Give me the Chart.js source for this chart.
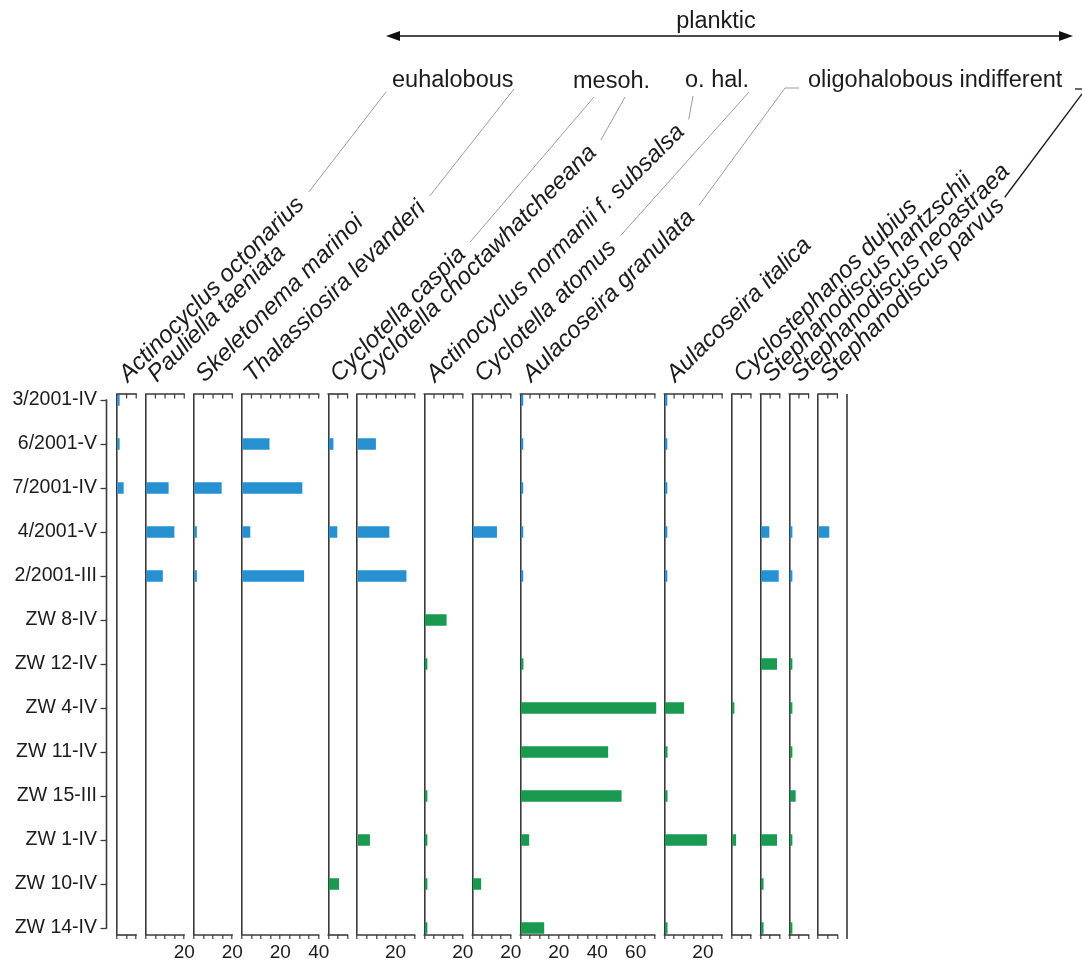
<!DOCTYPE html>
<html>
<head>
<meta charset="utf-8">
<title>Diatom assemblages</title>
<script src="https://cdn.jsdelivr.net/npm/chart.js@4.4.1/dist/chart.umd.min.js"></script>
<style>
  html, body { margin: 0; padding: 0; background: #ffffff; }
  #wrap { width: 1082px; height: 960px; position: relative; }
</style>
</head>
<body>
<div id="wrap"><canvas id="diagram"></canvas></div>
<script>
// ---- data -------------------------------------------------------------
const samples = ['3/2001-IV', '6/2001-V', '7/2001-IV', '4/2001-V', '2/2001-III',
  'ZW 8-IV', 'ZW 12-IV', 'ZW 4-IV', 'ZW 11-IV', 'ZW 15-III', 'ZW 1-IV', 'ZW 10-IV', 'ZW 14-IV'];

const taxa = ['Actinocyclus octonarius', 'Pauliella taeniata', 'Skeletonema marinoi',
  'Thalassiosira levanderi', 'Cyclotella caspia', 'Cyclotella choctawhatcheeana',
  'Actinocyclus normanii f. subsalsa', 'Cyclotella atomus', 'Aulacoseira granulata',
  'Aulacoseira italica', 'Cyclostephanos dubius', 'Stephanodiscus hantzschii',
  'Stephanodiscus neoastraea', 'Stephanodiscus parvus'];

// upper end of each taxon's % axis
const scaleMax = [10, 20, 20, 40, 10, 30, 20, 20, 70, 30, 10, 10, 10, 10];

// relative abundance (%) per sample, in the order of `samples`; null = not recorded
const actinocyclusOctonarius      = [1.2, 1.2, 3.3, null, null, null, null, null, null, null, null, null, null];
const pauliellaTaeniata           = [null, null, 11.7, 14.7, 8.7, null, null, null, null, null, null, null, null];
const skeletonemaMarinoi          = [null, null, 14.3, 1.4, 1.4, null, null, null, null, null, null, null, null];
const thalassiosiraLevanderi      = [null, 14.2, 31.3, 4.2, 32.2, null, null, null, null, null, null, null, null];
const cyclotellaCaspia            = [null, 2.5, null, 4.5, null, null, null, null, null, null, null, 5.4, null];
const cyclotellaChoctawhatcheeana = [null, 9.6, null, 16.6, 25.5, null, null, null, null, null, 6.5, null, null];
const actinocyclusNormanii        = [null, null, null, null, null, 11.4, 1.4, null, null, 1.4, 1.4, 1.4, 1.4];
const cyclotellaAtomus            = [null, null, null, 12.6, null, null, null, null, null, null, null, 4.4, null];
const aulacoseiraGranulata        = [1.3, 1.3, 1.3, 1.3, 1.3, null, 1.4, 70.5, 45.5, 52.5, 4.4, null, 12.2];
const aulacoseiraItalica          = [1.3, 1.3, 1.3, 1.3, 1.3, null, null, 10, 1.4, 1.4, 21.9, null, 1.4];
const cyclostephanosDubius        = [null, null, null, null, null, null, null, 1.2, null, null, 2.1, null, null];
const stephanodiscusHantzschii    = [null, null, null, 4.4, 9.3, null, 8.4, null, null, null, 8.4, 1.4, 1.4];
const stephanodiscusNeoastraea    = [null, null, null, 1.4, 1.4, null, 1.4, 1.4, 1.4, 3.1, 1.4, null, 1.4];
const stephanodiscusParvus        = [null, null, null, 5.6, null, null, null, null, null, null, null, null, null];

const abundance = [actinocyclusOctonarius, pauliellaTaeniata, skeletonemaMarinoi,
  thalassiosiraLevanderi, cyclotellaCaspia, cyclotellaChoctawhatcheeana, actinocyclusNormanii,
  cyclotellaAtomus, aulacoseiraGranulata, aulacoseiraItalica, cyclostephanosDubius,
  stephanodiscusHantzschii, stephanodiscusNeoastraea, stephanodiscusParvus];

const tickStep = 5;
const labelledTicks = [20, 40, 60];

const lifeForm = 'planktic';
const salinityGroups = ['euhalobous', 'mesoh.', 'o. hal.', 'oligohalobous indifferent'];

// ---- styling ----------------------------------------------------------
const FONT = '"Liberation Sans", Arial, Helvetica, sans-serif';
const TEXT = '#1b1b1b';
const LINE = '#3a3a3a';
const LEADER = '#9c9c9c';
const BLUE = '#2690d0';
const GREEN = '#1a9a50';
const PANEL_GAP = 5;          // empty % units after each taxon panel
const ROW_PAD_TOP = 6 / 44;   // space above first sample (in rows)
const ROW_PAD_BOTTOM = 7 / 44;

// scale paddings from label overhang would shrink the plot area; the frame is laid out by hand
const noOverhang = s => { s.paddingTop = 0; s.paddingBottom = 0; s.paddingLeft = 0; s.paddingRight = 0; };

// ---- scales -----------------------------------------------------------
const scales = {
  y: {
    type: 'linear',
    reverse: true,
    offset: false,
    min: -ROW_PAD_TOP,
    max: samples.length - 1 + ROW_PAD_BOTTOM,
    afterBuildTicks: s => { s.ticks = samples.map((_, i) => ({ value: i })); },
    afterFit: s => { s.width = 117; noOverhang(s); },
    grid: { display: false, drawTicks: false },
    border: { display: false },
    ticks: {
      autoSkip: false,
      padding: 20,
      color: TEXT,
      font: { family: FONT, size: 19.5 },
      callback: v => samples[v]
    }
  }
};

taxa.forEach((_, k) => {
  scales['x' + k] = {
    type: 'linear',
    axis: 'x',
    position: 'bottom',
    stack: 'panels',
    stackWeight: scaleMax[k] + PANEL_GAP,
    offset: false,
    min: 0,
    max: scaleMax[k] + PANEL_GAP,
    afterBuildTicks: s => {
      const t = [];
      for (let v = 0; v <= scaleMax[k]; v += tickStep) t.push({ value: v });
      s.ticks = t;
    },
    afterFit: s => { s.height = 25; noOverhang(s); },
    border: { display: false },
    grid: {
      drawOnChartArea: true,
      drawTicks: true,
      tickLength: 4,
      lineWidth: 1.6,
      color: c => (c.tick && c.tick.value === 0 ? LINE : 'rgba(0,0,0,0)'),
      tickColor: LINE,
      tickWidth: 1.2
    },
    ticks: {
      autoSkip: false,
      maxRotation: 0,
      minRotation: 0,
      padding: 2,
      color: TEXT,
      font: { family: FONT, size: 19 },
      callback: v => (labelledTicks.includes(v) ? String(v) : '')
    }
  };
});

// ---- datasets ---------------------------------------------------------
const datasets = taxa.map((name, k) => {
  const pts = [], colors = [];
  abundance[k].forEach((v, i) => {
    if (v === null) return;
    pts.push({ x: v, y: i });
    colors.push(samples[i].startsWith('ZW') ? GREEN : BLUE);
  });
  return {
    label: name,
    data: pts,
    xAxisID: 'x' + k,
    yAxisID: 'y',
    backgroundColor: colors,
    borderWidth: 0,
    barThickness: 11,
    grouped: false
  };
});

// ---- frame, taxon names and ecological annotations -------------------
const frame = {
  id: 'frame',
  afterDraw(chart) {
    const ctx = chart.ctx;
    const area = chart.chartArea;
    const yS = chart.scales.y;
    ctx.save();
    ctx.strokeStyle = LINE;
    ctx.lineCap = 'butt';

    // sample axis with ticks
    const axX = area.left - 10.5;
    const yFirst = yS.getPixelForValue(0);
    const yLast = yS.getPixelForValue(samples.length - 1);
    ctx.lineWidth = 1.6;
    ctx.beginPath();
    ctx.moveTo(axX, yFirst - 0.8);
    ctx.lineTo(axX, yLast + 0.8);
    ctx.stroke();
    ctx.lineWidth = 1.3;
    samples.forEach((_, i) => {
      const y = Math.round(yS.getPixelForValue(i)) + 0.5;
      ctx.beginPath();
      ctx.moveTo(axX - 6, y);
      ctx.lineTo(axX, y);
      ctx.stroke();
    });

    // per-panel top and bottom axis lines, inward ticks on top
    taxa.forEach((_, k) => {
      const s = chart.scales['x' + k];
      const a = s.getPixelForValue(0);
      const b = s.getPixelForValue(scaleMax[k]);
      ctx.lineWidth = 1.6;
      [area.top, area.bottom].forEach(y => {
        ctx.beginPath();
        ctx.moveTo(a - 0.8, y);
        ctx.lineTo(b + 0.6, y);
        ctx.stroke();
      });
      ctx.lineWidth = 1.2;
      for (let v = tickStep; v <= scaleMax[k]; v += tickStep) {
        const x = s.getPixelForValue(v);
        ctx.beginPath();
        ctx.moveTo(x, area.top);
        ctx.lineTo(x, area.top + 4.5);
        ctx.stroke();
      }
    });

    // closing line on the right
    ctx.lineWidth = 1.6;
    ctx.beginPath();
    ctx.moveTo(area.right, area.top);
    ctx.lineTo(area.right, area.bottom + 4);
    ctx.stroke();

    // taxon names, rotated 45 degrees
    const c45 = Math.SQRT1_2;
    const nameSize = 24;
    ctx.font = 'italic ' + nameSize + 'px ' + FONT;
    ctx.fillStyle = TEXT;
    ctx.textAlign = 'left';
    ctx.textBaseline = 'alphabetic';
    const ends = [];
    taxa.forEach((name, k) => {
      const x0 = chart.scales['x' + k].getPixelForValue(0) + 11;
      const y0 = area.top - 11;
      ctx.save();
      ctx.translate(x0, y0);
      ctx.rotate(-Math.PI / 4);
      ctx.fillText(name, 0, 0);
      ctx.restore();
      const w = ctx.measureText(name).width;
      const up = nameSize * 0.3;
      ends.push({ x: x0 + w * c45 - up * c45, y: y0 - w * c45 - up * c45 });
    });

    // life form arrow
    ctx.font = '23.5px ' + FONT;
    ctx.textAlign = 'center';
    ctx.fillText(lifeForm, 716, 28);
    const ay = 36, ax1 = 386, ax2 = 1073;
    ctx.lineWidth = 1.5;
    ctx.strokeStyle = '#111';
    ctx.beginPath();
    ctx.moveTo(ax1 + 10, ay);
    ctx.lineTo(ax2 - 10, ay);
    ctx.stroke();
    ctx.fillStyle = '#111';
    ctx.beginPath();
    ctx.moveTo(ax1, ay); ctx.lineTo(ax1 + 14, ay - 5); ctx.lineTo(ax1 + 14, ay + 5); ctx.closePath();
    ctx.fill();
    ctx.beginPath();
    ctx.moveTo(ax2, ay); ctx.lineTo(ax2 - 14, ay - 5); ctx.lineTo(ax2 - 14, ay + 5); ctx.closePath();
    ctx.fill();

    // salinity groups
    ctx.fillStyle = TEXT;
    ctx.textAlign = 'left';
    const groupX = [392, 573, 685, 808];
    const groupY = [87, 88, 87, 87];
    salinityGroups.forEach((g, i) => ctx.fillText(g, groupX[i], groupY[i]));

    // leader lines from taxon names to their group
    const gap = 12;
    const leaders = [
      { taxon: 0, to: [[386, 92]] },
      { taxon: 3, to: [[514, 89]] },
      { taxon: 4, to: [[594, 97]] },
      { taxon: 5, to: [[625, 97]] },
      { taxon: 6, to: [[693, 96]] },
      { taxon: 7, to: [[749, 92]] },
      { taxon: 8, to: [[785, 88], [799, 88]] }
    ];
    ctx.strokeStyle = LEADER;
    ctx.lineWidth = 1;
    leaders.forEach(l => {
      const e = ends[l.taxon];
      ctx.beginPath();
      ctx.moveTo(e.x + gap * c45, e.y - gap * c45);
      l.to.forEach(p => ctx.lineTo(p[0], p[1]));
      ctx.stroke();
    });
    const ep = ends[13];
    ctx.strokeStyle = '#1a1a1a';
    ctx.lineWidth = 1.3;
    ctx.beginPath();
    ctx.moveTo(ep.x + 6 * c45, ep.y - 6 * c45);
    ctx.lineTo(1082, 94);
    ctx.stroke();
    ctx.beginPath();
    ctx.moveTo(1075, 89);
    ctx.lineTo(1082, 89);
    ctx.stroke();

    ctx.restore();
  }
};

new Chart(document.getElementById('diagram'), {
  type: 'bar',
  data: { datasets },
  options: {
    indexAxis: 'y',
    responsive: true,
    maintainAspectRatio: false,
    animation: false,
    layout: { padding: { top: 394, right: 235, bottom: 0, left: 0 } },
    scales,
    plugins: {
      legend: { display: false },
      tooltip: { enabled: false }
    }
  },
  plugins: [frame]
});
</script>
</body>
</html>
